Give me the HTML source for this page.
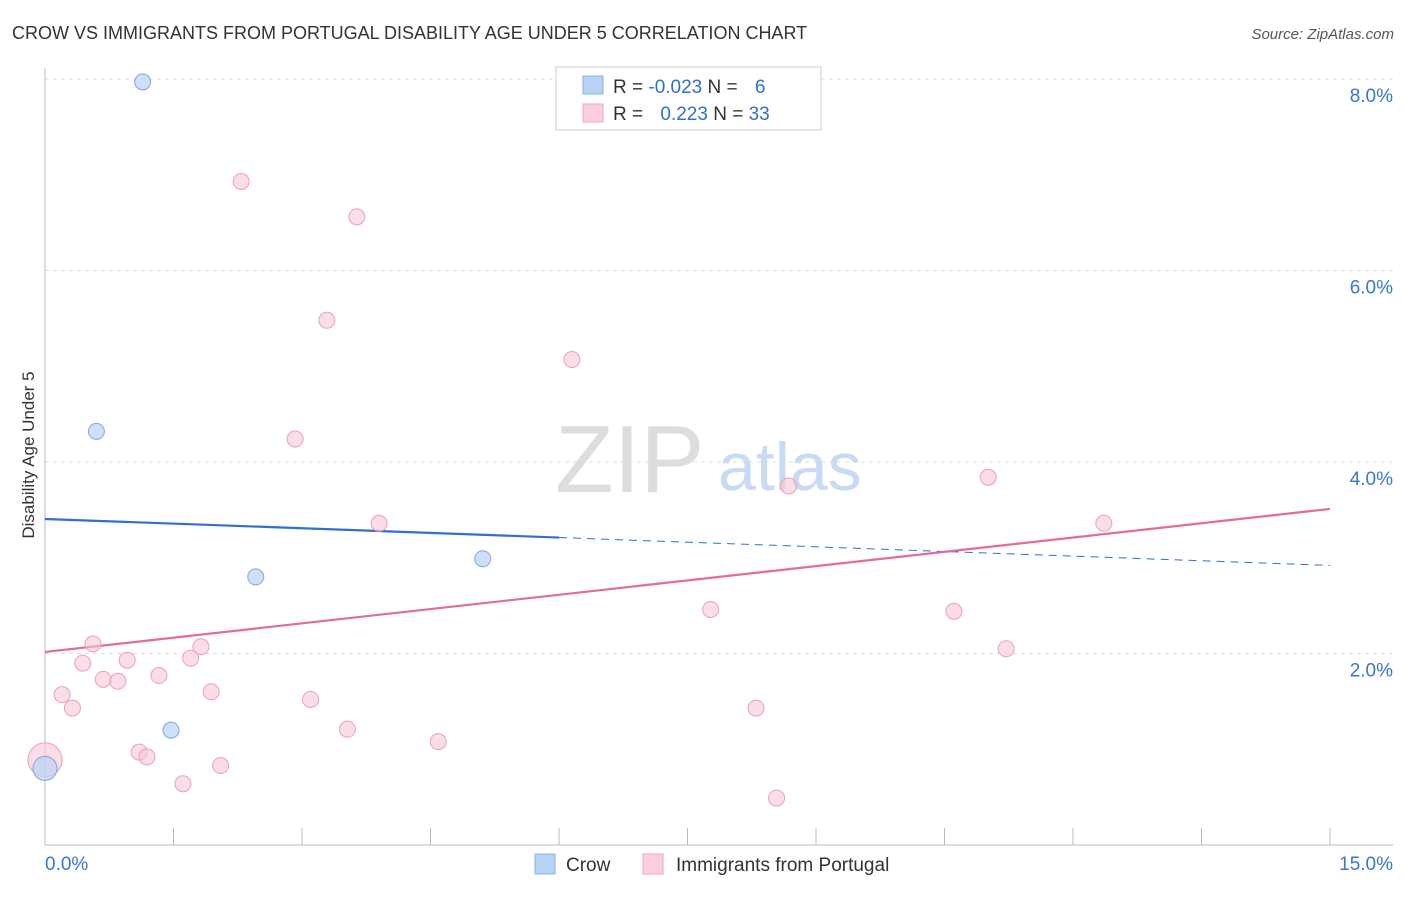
<!DOCTYPE html>
<html><head><meta charset="utf-8"><style>
body{margin:0;background:#fff;font-family:"Liberation Sans",sans-serif;}
svg text{font-family:"Liberation Sans",sans-serif;}
</style></head><body>
<svg width="1406" height="892" viewBox="0 0 1406 892">
<text x="12" y="39" font-size="18" fill="#333">CROW VS IMMIGRANTS FROM PORTUGAL DISABILITY AGE UNDER 5 CORRELATION CHART</text>
<text x="1394" y="39" font-size="15" fill="#555" font-style="italic" text-anchor="end">Source: ZipAtlas.com</text>
<g id="grid"></g>
<g id="axes"></g>
<text x="555" y="492" font-size="96" fill="#ddd" font-family="Liberation Serif">ZIP</text>
<text x="718" y="490" font-size="68" fill="#c9daf3">atlas</text>
<text transform="translate(34,455) rotate(-90)" font-size="17" fill="#333" text-anchor="middle">Disability Age Under 5</text>
<g id="lines"></g>
<g id="points"></g>
<g>
<rect x="556" y="67" width="265" height="63" fill="#fff" stroke="#ccc"/>
<rect x="583" y="76" width="20" height="18" fill="#b9d3f5" stroke="#8ab0e6"/>
<rect x="583" y="104" width="20" height="18" fill="#fbcfdc" stroke="#f0a7be"/>
<text x="613" y="93" font-size="19" fill="#333">R = <tspan fill="#2f6fd0">-0.023</tspan>   N = <tspan fill="#2f6fd0" dx="12">6</tspan></text>
<text x="613" y="120" font-size="19" fill="#333">R = <tspan fill="#2f6fd0" dx="12">0.223</tspan>   N = <tspan fill="#2f6fd0">33</tspan></text>
</g>
<g>
<rect x="535" y="854" width="20" height="20" fill="#b9d3f5" stroke="#8ab0e6"/>
<text x="566" y="871" font-size="19" fill="#333">Crow</text>
<rect x="643" y="854" width="20" height="20" fill="#fbcfdc" stroke="#f0a7be"/>
<text x="676" y="871" font-size="19" fill="#333">Immigrants from Portugal</text>
</g>
</svg>
<script>
const yTicks=[2,4,6,8];
const yTickLabels=["2.0%","4.0%","6.0%","8.0%"];
const xTickLabels=["0.0%","15.0%"];
const crowX=[1.14,0.60,2.46,5.11,1.47,0];
const crowY=[7.97,4.32,2.80,2.99,1.20,0.80];
const portX=[2.29,3.64,3.29,6.15,2.92,8.68,11.01,3.90,12.36,7.77,10.61,11.22,0.56,0.44,0.96,1.82,1.70,0.68,0.85,1.33,0.20,0.32,1.94,3.10,8.30,3.53,4.59,1.10,1.19,2.05,1.61,8.54,0];
const portY=[6.93,6.56,5.48,5.07,4.24,3.75,3.84,3.36,3.36,2.46,2.44,2.05,2.10,1.90,1.93,2.07,1.95,1.73,1.71,1.77,1.57,1.43,1.60,1.52,1.43,1.21,1.08,0.97,0.92,0.83,0.64,0.49,0.89];
const crowTrend=[3.405,2.92];
const portTrend=[2.016,3.51];
const crowSolidEnd=6;
const X=v=>45+v*(1285/15), Y=v=>845-v*95.75;
const NS="http://www.w3.org/2000/svg";
function mk(t,a,p){const e=document.createElementNS(NS,t);for(const k in a)e.setAttribute(k,a[k]);p.appendChild(e);return e;}
const grid=document.getElementById('grid'),axes=document.getElementById('axes');
yTicks.forEach((t,i)=>{
 const l=mk('line',{x1:45,x2:1393,y1:Y(t),y2:Y(t),stroke:'#ddd','stroke-dasharray':'4,4'},grid);
 
 
 const tx=mk('text',{x:1393,y:Y(t)+23,'font-size':19,fill:'#3a75d0','text-anchor':'end'},axes);
 tx.textContent=yTickLabels[i];
 
 
});
mk('line',{x1:45,x2:45,y1:68,y2:845,stroke:'#bbb'},axes);
mk('line',{x1:45,x2:1393,y1:845,y2:845,stroke:'#bbb'},axes);
for(let i=0;i<=10;i++){const x=X(i*1.5);mk('line',{x1:x,x2:x,y1:828,y2:845,stroke:'#bbb'},axes);}
[[0,'start',45],[15,'end',1393]].forEach((d,i)=>{
 const tx=mk('text',{x:d[2],y:870,'font-size':19,fill:'#3a75d0','text-anchor':d[1]},axes);
 tx.textContent=xTickLabels[i];
 
 
});
const lines=document.getElementById('lines');
const cy=x=>crowTrend[0]+(crowTrend[1]-crowTrend[0])*x/15;
let l1=mk('line',{x1:X(0),y1:Y(cy(0)),x2:X(crowSolidEnd),y2:Y(cy(crowSolidEnd)),stroke:'#2f6fd0','stroke-width':2.2},lines);


let l2=mk('line',{x1:X(crowSolidEnd),y1:Y(cy(crowSolidEnd)),x2:X(15),y2:Y(cy(15)),stroke:'#2f6fd0','stroke-width':1,'stroke-dasharray':'8,6'},lines);


let l3=mk('line',{x1:X(0),y1:Y(portTrend[0]),x2:X(15),y2:Y(portTrend[1]),stroke:'#e36b95','stroke-width':2.2},lines);


const pts=document.getElementById('points');
portX.forEach((x,i)=>{
 const big=x===0;
 const c=mk('circle',{cx:X(x),cy:Y(portY[i]),r:big?17:8,fill:'#f9c6d5','fill-opacity':0.6,stroke:'#eba0b8','stroke-width':1},pts);
 
 
});
crowX.forEach((x,i)=>{
 const big=x===0;
 const c=mk('circle',{cx:X(x),cy:Y(crowY[i]),r:big?12:8,fill:'#b9d3f5','fill-opacity':0.7,stroke:'#7fa6de','stroke-width':1},pts);
 
 
});
</script>
</body></html>
